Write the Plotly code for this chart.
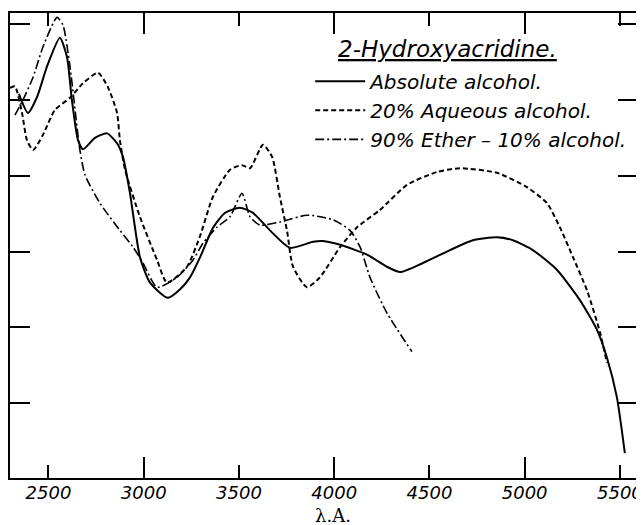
import plotly.graph_objects as go

# Absolute alcohol (solid)
abs_x = [2345, 2392, 2440, 2492, 2560, 2597, 2623, 2655, 2681, 2744, 2807, 2860, 2891, 2928, 2980,
         3033, 3127, 3190, 3243, 3295, 3363, 3426, 3505, 3574, 3663, 3768, 3889, 3941, 4031, 4172, 4277,
         4346, 4466, 4608, 4728, 4854, 4938, 5043, 5169, 5290, 5379, 5431, 5484, 5526]
abs_y = [5.08, 4.83, 5.04, 5.44, 5.82, 5.57, 5.00, 4.47, 4.35, 4.50, 4.56, 4.43, 4.25, 3.77, 2.93,
         2.59, 2.39, 2.50, 2.66, 2.92, 3.31, 3.51, 3.58, 3.51, 3.28, 3.05, 3.13, 3.14, 3.09, 2.96, 2.80,
         2.73, 2.85, 3.02, 3.15, 3.19, 3.15, 3.02, 2.76, 2.36, 1.97, 1.61, 1.08, 0.34]

# 20% Aqueous alcohol (dashed)
aq_x = [2298, 2324, 2361, 2387, 2419, 2471, 2534, 2613, 2681, 2760, 2812, 2860, 2875, 2902, 2980,
        3070, 3122, 3227, 3295, 3363, 3453, 3516, 3558, 3626, 3674, 3715, 3752, 3784, 3857, 3925,
        4031, 4120, 4240, 4382, 4539, 4660, 4854, 5012, 5117, 5185, 5253, 5327, 5396, 5432]
aq_y = [5.16, 5.18, 4.83, 4.47, 4.34, 4.54, 4.87, 5.03, 5.22, 5.36, 5.17, 4.83, 4.47, 4.08, 3.46,
        2.89, 2.59, 2.80, 3.20, 3.72, 4.08, 4.14, 4.10, 4.41, 4.25, 3.72, 3.28, 2.80, 2.53, 2.66,
        3.06, 3.32, 3.55, 3.88, 4.05, 4.10, 4.04, 3.85, 3.64, 3.32, 2.93, 2.49, 1.93, 1.53]

# 90% Ether - 10% alcohol (dash-dot)
eth_x = [2324, 2366, 2419, 2471, 2545, 2576, 2613, 2665, 2692, 2770, 2875, 2944, 2996, 3070, 3175,
         3259, 3311, 3384, 3453, 3516, 3558, 3610, 3715, 3857, 3994, 4083, 4136, 4188, 4277, 4408]
eth_y = [4.80, 5.00, 5.30, 5.70, 6.09, 5.99, 5.44, 4.34, 4.01, 3.64, 3.28, 3.06, 2.85, 2.53, 2.66,
         2.89, 3.11, 3.32, 3.46, 3.77, 3.46, 3.35, 3.39, 3.48, 3.42, 3.28, 3.06, 2.66, 2.19, 1.68]

x_ticks = [2500, 3000, 3500, 4000, 4500, 5000, 5500]
x_major = [3000, 4000, 5000]
y_ticks = [0, 1, 2, 3, 4, 5, 6]

title_text = "2-Hydroxyacridine."
names = ["Absolute alcohol.", "20% Aqueous alcohol.", "90% Ether \u2013 10% alcohol."]

FONT = "DejaVu Sans"
XR = [2298, 5595]
YR = [0.013, 6.148]

fig = go.Figure()
fig.add_trace(go.Scatter(x=abs_x, y=abs_y, mode="lines", name=names[0],
                         line=dict(color="black", width=2, shape="spline", smoothing=0.6)))
fig.add_trace(go.Scatter(x=aq_x, y=aq_y, mode="lines", name=names[1],
                         line=dict(color="black", width=2, dash="5px,3px", shape="spline", smoothing=0.6)))
fig.add_trace(go.Scatter(x=eth_x, y=eth_y, mode="lines", name=names[2], xaxis="x2",
                         line=dict(color="black", width=1.6, dash="9px,3px,2px,3px",
                                   shape="spline", smoothing=0.6)))

# the page body has an 8px default margin, so the figure is sized 8px smaller
fig.update_layout(
    width=636, height=517,
    margin=dict(l=2, r=6, t=5, b=47),
    paper_bgcolor="white", plot_bgcolor="white",
    showlegend=True,
    legend=dict(x=0.478, y=0.895, xanchor="left", yanchor="top",
                bgcolor="rgba(0,0,0,0)", borderwidth=0, itemwidth=50,
                font=dict(family=FONT, size=20, color="black", style="italic"),
                tracegroupgap=0),
    xaxis=dict(range=XR, tickmode="array", tickvals=x_ticks, ticktext=[str(v) for v in x_ticks],
               ticks="inside", ticklen=13, tickwidth=1.5, tickcolor="black",
               showline=True, linecolor="black", linewidth=2, mirror="ticks",
               showgrid=False, zeroline=False, ticklabelstandoff=-3,
               tickfont=dict(family=FONT, size=18, color="black", style="italic")),
    xaxis2=dict(range=XR, overlaying="x", anchor="y", side="bottom", matches="x",
                tickmode="array", tickvals=x_major, showticklabels=False,
                ticks="inside", ticklen=21, tickwidth=1.5, tickcolor="black",
                showline=False, mirror="ticks", showgrid=False, zeroline=False),
    yaxis=dict(range=YR, tickmode="array", tickvals=y_ticks, showticklabels=False,
               ticks="inside", ticklen=20, tickwidth=1.5, tickcolor="black",
               showline=True, linecolor="black", linewidth=2, mirror="ticks",
               showgrid=False, zeroline=False),
    annotations=[
        dict(text="<u>" + title_text + "</u>", xref="paper", yref="paper", x=0.6967, y=0.9226,
             xanchor="center", yanchor="middle", showarrow=False,
             font=dict(family=FONT, size=23, color="black", style="italic")),
        dict(text="\u03bb.A.", xref="paper", yref="paper", x=0.514, y=-0.08,
             xanchor="center", yanchor="middle", showarrow=False,
             font=dict(family="DejaVu Serif", size=18, color="black")),
    ],
)

fig.write_html("out.html")
